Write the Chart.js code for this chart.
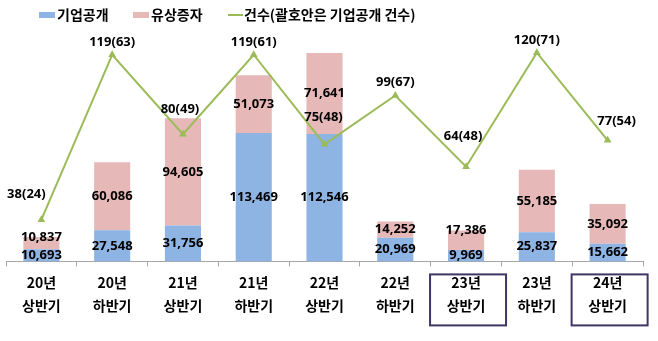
<!DOCTYPE html>
<html>
<head>
<meta charset="utf-8">
<script src="https://cdn.jsdelivr.net/npm/chart.js@4/dist/chart.umd.min.js"></script>
<style>
  body { margin: 0; background: #fff; }
  #wrap { width: 658px; height: 341px; }
</style>
</head>
<body>
<div id="wrap"><canvas id="fund_chart" width="658" height="341"></canvas></div>
<script>
// 반기별 공모 금액 (억원) / 건수
var periods = [['20년','상반기'],['20년','하반기'],['21년','상반기'],['21년','하반기'],['22년','상반기'],['22년','하반기'],['23년','상반기'],['23년','하반기'],['24년','상반기']];
var ipoAmount = [10693, 27548, 31756, 113469, 112546, 20969, 9969, 25837, 15662];
var rightsAmount = [10837, 60086, 94605, 51073, 71641, 14252, 17386, 55185, 35092];
var dealCount = [38, 119, 80, 119, 75, 99, 64, 120, 77];
var ipoCount = [24, 63, 49, 61, 48, 67, 48, 71, 54];
var boxed = [6, 8]; // 테두리 친 구간

var blue = 'rgb(142, 180, 227)';
var pink = 'rgb(230, 185, 184)';
var green = 'rgb(155, 187, 89)';
var hangul = '"Noto Sans CJK KR", "Noto Sans", sans-serif';
var numFont = 'bold 13px "Noto Sans", sans-serif';

// label nudges for the line (relative to each point)
var lineLabelShift = [[-15,-25],[0,-12],[-3,-25],[0,-12],[-1,-27],[0,-13],[-3,-30],[0,-12],[9,-19]];

function fmt(v){ return v.toLocaleString('en-US'); }

var labelPlugin = {
    id: 'labels',
    afterDatasetsDraw: function(chart){
        var ctx = chart.ctx;
        ctx.save();
        ctx.font = numFont;
        ctx.fillStyle = '#000';
        ctx.textAlign = 'center';
        ctx.textBaseline = 'middle';
        var ipo = chart.getDatasetMeta(0).data;
        var rights = chart.getDatasetMeta(1).data;
        ipo.forEach(function(bar, i){
            ctx.fillText(fmt(ipoAmount[i]), bar.x, (bar.y + bar.base) / 2);
            var r = rights[i];
            var y = (r.y + r.base) / 2;
            if (bar.base - bar.y < 15) y = r.y;
            ctx.fillText(fmt(rightsAmount[i]), r.x, y);
        });
        var pts = chart.getDatasetMeta(2).data;
        pts.forEach(function(p, i){
            var s = lineLabelShift[i];
            ctx.fillText(dealCount[i] + '(' + ipoCount[i] + ')', p.x + s[0], p.y + s[1]);
        });

        // boxes round some x labels
        var xs = chart.scales.x;
        ctx.strokeStyle = '#403565';
        ctx.lineWidth = 2;
        boxed.forEach(function(i){
            var cx = xs.getPixelForValue(i) + 2;
            ctx.strokeRect(cx - 38, xs.top + 13, 76, 51);
        });

        // legend
        ctx.font = 'bold 14px ' + hangul;
        ctx.textAlign = 'left';
        ctx.fillStyle = blue;
        ctx.fillRect(39, 12, 16, 6);
        ctx.fillStyle = pink;
        ctx.fillRect(133, 12, 16, 6);
        ctx.strokeStyle = green;
        ctx.lineWidth = 2;
        ctx.beginPath();
        ctx.moveTo(228, 15); ctx.lineTo(243, 15);
        ctx.stroke();
        ctx.fillStyle = '#000';
        ctx.fillText('기업공개', 57, 15);
        ctx.fillText('유상증자', 151, 15);
        ctx.fillText('건수(괄호안은 기업공개 건수)', 244, 15);
        ctx.restore();
    }
};

var ctx = document.getElementById('fund_chart');
var chart = new Chart(ctx, {
    type: 'bar',
    data: {
        labels: periods,
        datasets: [{
            label: '기업공개',
            data: ipoAmount,
            backgroundColor: blue,
            stack: 'amt',
            order: 2
        }, {
            label: '유상증자',
            data: rightsAmount,
            backgroundColor: pink,
            stack: 'amt',
            order: 2
        }, {
            type: 'line',
            label: '건수(괄호안은 기업공개 건수)',
            data: dealCount,
            yAxisID: 'y1',
            borderColor: green,
            borderWidth: 2,
            backgroundColor: green,
            pointStyle: 'triangle',
            pointRadius: 2.5,
            tension: 0,
            order: 1
        }]
    },
    options: {
        responsive: false,
        animation: false,
        devicePixelRatio: 1,
        categoryPercentage: 1,
        barPercentage: 0.51,
        layout: { padding: { left: 2, right: 15, top: 35, bottom: 19 } },
        plugins: {
            legend: { display: false },
            tooltip: { enabled: false }
        },
        scales: {
            x: {
                stacked: true,
                grid: { drawOnChartArea: false, tickLength: 5, color: '#a6a6a6' },
                border: { color: '#a6a6a6' },
                ticks: {
                    color: '#000',
                    padding: 4,
                    font: { family: hangul, size: 14, weight: 'bold', lineHeight: 1.7 }
                }
            },
            y: {
                stacked: true,
                display: false,
                min: 0,
                max: 200000
            },
            y1: {
                display: false,
                min: 17.5,
                max: 128.7
            }
        }
    },
    plugins: [labelPlugin]
});
</script>
</body>
</html>
